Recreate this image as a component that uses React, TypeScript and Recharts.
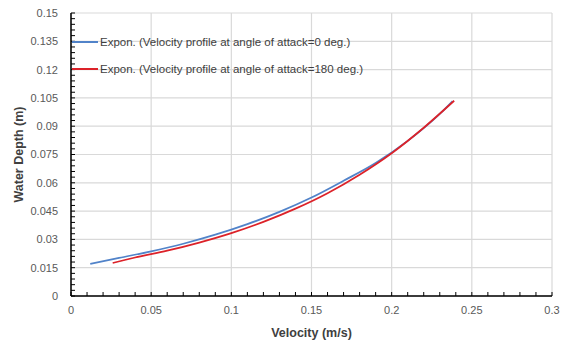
import React from 'react'
import { LineChart, Line, XAxis, YAxis, CartesianGrid, Legend } from 'recharts'

// axis ticks
const xTicks = [0, 0.05, 0.1, 0.15, 0.2, 0.25, 0.3]
const yTicks = [0, 0.015, 0.03, 0.045, 0.06, 0.075, 0.09, 0.105, 0.12, 0.135, 0.15]

// trendline at angle of attack = 0 deg.
const blueX = [0.012, 0.03, 0.05, 0.07, 0.09, 0.11, 0.13, 0.15, 0.17, 0.19, 0.21, 0.23, 0.238]
const blueY = [0.017, 0.0202, 0.0237, 0.0277, 0.0325, 0.0381, 0.0446, 0.0522, 0.0611, 0.0705, 0.0822, 0.0965, 0.1033]

// trendline at angle of attack = 180 deg.
const redX = [0.026, 0.04, 0.06, 0.08, 0.1, 0.12, 0.14, 0.16, 0.18, 0.2, 0.22, 0.239]
const redY = [0.0175, 0.0204, 0.024, 0.0283, 0.0333, 0.0393, 0.0463, 0.0545, 0.0643, 0.0757, 0.0892, 0.1035]

const seriesNames = [
  'Expon. (Velocity profile at angle of attack=0 deg.)',
  'Expon. (Velocity profile at angle of attack=180 deg.)',
]
const seriesColors = ['#5183c9', '#dc2229']

const blueData = blueX.map((x, i) => ({ x, y: blueY[i] }))
const redData = redX.map((x, i) => ({ x, y: redY[i] }))

// minor tick marks (0.01 on x, 0.003 on y), labels only on the major ones
const minorX = Array.from({ length: 31 }, (_, i) => +(i * 0.01).toFixed(2))
const minorY = Array.from({ length: 51 }, (_, i) => +(i * 0.003).toFixed(3))

const font = '"Liberation Sans", Arial, sans-serif'

function ChartLegend() {
  return (
    <div style={{ fontFamily: font, fontSize: 11.5, color: '#404040' }}>
      {seriesNames.map((name, i) => (
        <div key={name} style={{ display: 'flex', alignItems: 'center', height: 27 }}>
          <span style={{ display: 'inline-block', width: 26, height: 2, background: seriesColors[i], marginRight: 2 }} />
          <span>{name}</span>
        </div>
      ))}
    </div>
  )
}

export default function App() {
  return (
    <div style={{ position: 'absolute', left: 0, top: 0, background: '#fff' }}>
      <LineChart width={573} height={343} margin={{ top: 13, right: 21, left: 0, bottom: 0 }}>
        <CartesianGrid stroke="#d9d9d9" strokeWidth={1.2} horizontalValues={yTicks} verticalValues={xTicks} />
        <XAxis
          type="number"
          dataKey="x"
          domain={[0, 0.3]}
          ticks={minorX}
          interval={0}
          allowDataOverflow
          height={47}
          tickSize={-4}
          tickMargin={14}
          tickLine={{ stroke: '#000' }}
          tickFormatter={(v: number) => (xTicks.includes(v) ? String(v) : '')}
          axisLine={{ stroke: '#000', strokeWidth: 1.5 }}
          tick={{ fill: '#595959', fontSize: 11, fontFamily: font }}
          label={{ value: 'Velocity (m/s)', position: 'insideBottom', offset: 6, fill: '#404040', fontSize: 12.5, fontWeight: 'bold', fontFamily: font }}
        />
        <YAxis
          type="number"
          domain={[0, 0.15]}
          ticks={minorY}
          interval={0}
          allowDataOverflow
          width={71}
          tickSize={-4}
          tickMargin={17}
          tickLine={{ stroke: '#000' }}
          tickFormatter={(v: number) => (yTicks.includes(v) ? String(v) : '')}
          axisLine={{ stroke: '#000', strokeWidth: 1.5 }}
          tick={{ fill: '#595959', fontSize: 11, fontFamily: font }}
          label={{ value: 'Water Depth (m)', angle: -90, position: 'insideLeft', offset: 19, fill: '#404040', fontSize: 12.5, fontWeight: 'bold', fontFamily: font, style: { textAnchor: 'middle' } }}
        />
        <Legend
          layout="horizontal"
          verticalAlign="middle"
          align="center"
          content={<ChartLegend />}
          wrapperStyle={{ top: 28, left: 72, width: 340 }}
        />
        <Line
          data={blueData}
          dataKey="y"
          name={seriesNames[0]}
          type="monotone"
          stroke={seriesColors[0]}
          strokeWidth={1.75}
          dot={false}
          isAnimationActive={false}
        />
        <Line
          data={redData}
          dataKey="y"
          name={seriesNames[1]}
          type="monotone"
          stroke={seriesColors[1]}
          strokeWidth={1.75}
          dot={false}
          isAnimationActive={false}
        />
      </LineChart>
    </div>
  )
}
